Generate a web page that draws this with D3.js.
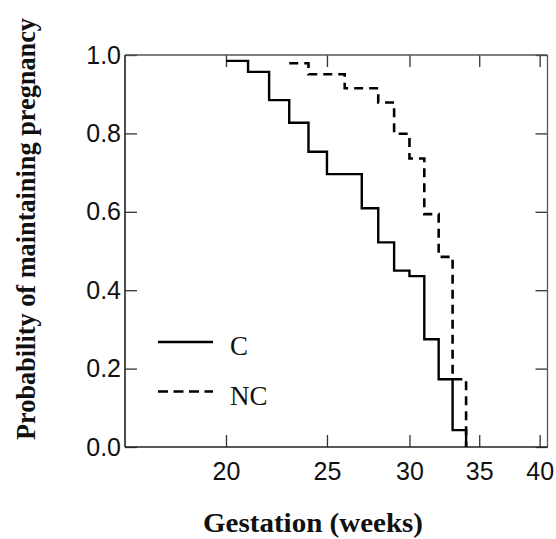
<!DOCTYPE html>
<html>
<head>
<meta charset="utf-8">
<script src="https://cdn.jsdelivr.net/npm/d3@7"></script>
<style>
  body { margin: 0; background: #fff; }
  .tick text { font-family: "Liberation Sans", Arial, sans-serif; font-size: 25px; fill: #111; }
  .title { font-family: "Liberation Serif", "Times New Roman", serif; font-weight: bold; font-size: 27px; fill: #111; }
  .legend text { font-family: "Liberation Serif", "Times New Roman", serif; font-size: 27px; fill: #111; }
</style>
</head>
<body>
<div id="chart"></div>
<script>
// Kaplan-Meier style step data
var timesC = [20, 21, 22, 23, 24, 25, 27, 28, 29, 30, 31, 32, 33, 34]
var survC = [0.985, 0.957, 0.885, 0.827, 0.753, 0.696, 0.609, 0.522, 0.450, 0.436, 0.275, 0.173, 0.043, 0]
var timesNC = [23, 24, 26, 28, 29, 30, 31, 32, 33, 34]
var survNC = [0.979, 0.951, 0.915, 0.879, 0.799, 0.736, 0.594, 0.485, 0.173, 0]
var xTicks = [20, 25, 30, 35, 40]
var yTicks = [0, 0.2, 0.4, 0.6, 0.8, 1.0]
var legendLabels = ["C", "NC"]

var width = 556, height = 539
var margin = { top: 55, right: 8.5, bottom: 92, left: 125 }
var w = width - margin.left - margin.right,
    h = height - margin.top - margin.bottom

var svg = d3.select("#chart")
    .append("svg")
    .attr("width", width)
    .attr("height", height)

var g = svg.append("g")
    .attr("transform", "translate(" + margin.left + "," + margin.top + ")")

// log x axis
var x = d3.scaleLog().domain([16, 40.7]).range([0, w])
var y = d3.scaleLinear().domain([0, 1]).range([h, 0])

var fmtY = d3.format(".1f")

// ticks on all four sides, pointing inward
g.append("g")
    .attr("transform", "translate(0," + h + ")")
    .call(d3.axisBottom(x).tickValues(xTicks).tickFormat(d3.format("d")).tickSize(-12).tickPadding(15))
g.append("g")
    .call(d3.axisTop(x).tickValues(xTicks).tickFormat("").tickSize(-12))
g.append("g")
    .call(d3.axisLeft(y).tickValues(yTicks).tickFormat(fmtY).tickSize(-12).tickPadding(4))
g.append("g")
    .attr("transform", "translate(" + w + ",0)")
    .call(d3.axisRight(y).tickValues(yTicks).tickFormat("").tickSize(-12))

g.selectAll(".domain").remove()
g.selectAll(".tick line").attr("stroke", "#333").attr("stroke-width", 1.3)

// frame
g.append("line").attr("x1", 0).attr("x2", w).attr("y1", 0).attr("y2", 0)
    .attr("stroke", "#555").attr("stroke-width", 1.3)
g.append("line").attr("x1", w).attr("x2", w).attr("y1", 0).attr("y2", h)
    .attr("stroke", "#555").attr("stroke-width", 1.3)
g.append("line").attr("x1", 0).attr("x2", 0).attr("y1", 0).attr("y2", h)
    .attr("stroke", "#222").attr("stroke-width", 1.6)
g.append("line").attr("x1", 0).attr("x2", w).attr("y1", h).attr("y2", h)
    .attr("stroke", "#222").attr("stroke-width", 1.6)

var line = d3.line()
    .x(function (d) { return x(d[0]) })
    .y(function (d) { return y(d[1]) })
    .curve(d3.curveStepAfter)

g.append("path")
    .datum(d3.zip(timesC, survC))
    .attr("d", line)
    .attr("fill", "none")
    .attr("stroke", "#000")
    .attr("stroke-width", 2.4)

g.append("path")
    .datum(d3.zip(timesNC, survNC))
    .attr("d", line)
    .attr("fill", "none")
    .attr("stroke", "#000")
    .attr("stroke-width", 2.6)
    .attr("stroke-dasharray", "9,6")

// legend
var legend = svg.append("g").attr("class", "legend")
legendLabels.forEach(function (lab, i) {
    var ly = 342 + i * 49.5
    legend.append("line")
        .attr("x1", 158).attr("x2", 213).attr("y1", ly).attr("y2", ly)
        .attr("stroke", "#000").attr("stroke-width", 2.4)
        .attr("stroke-dasharray", i == 1 ? "10,5.5" : null)
    legend.append("text")
        .attr("x", 230).attr("y", ly + 13)
        .text(lab)
})

// axis titles
svg.append("text")
    .attr("class", "title")
    .attr("x", 313).attr("y", 532)
    .attr("text-anchor", "middle")
    .attr("textLength", 220)
    .attr("lengthAdjust", "spacingAndGlyphs")
    .text("Gestation (weeks)")

svg.append("text")
    .attr("class", "title")
    .attr("transform", "translate(35,229) rotate(-90)")
    .attr("text-anchor", "middle")
    .attr("textLength", 422)
    .attr("lengthAdjust", "spacingAndGlyphs")
    .text("Probability of maintaining pregnancy")
</script>
</body>
</html>
